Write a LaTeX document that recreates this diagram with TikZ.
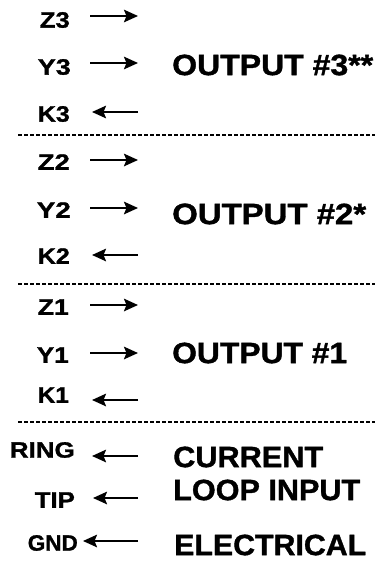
\documentclass[tikz,border=0pt]{standalone}
\usepackage{fontspec}
\setmainfont{Liberation Sans}[BoldFeatures={FakeBold=1.2}]
\usetikzlibrary{arrows.meta}
\newcommand{\fitsm}[2]{\resizebox{#1pt}{15.5pt}{#2}}
\newcommand{\fitbg}[2]{\resizebox{#1pt}{20.5pt}{#2}}
\begin{document}
\begin{tikzpicture}[x=1pt,y=-1pt,
  small/.style={inner sep=0pt, anchor=east, font=\fontsize{21.5}{24}\selectfont\bfseries},
  big/.style={inner sep=0pt, anchor=west, font=\fontsize{28.5}{32}\selectfont\bfseries},
  sig/.style={line width=2.2pt, -{Stealth[length=14pt,width=12.5pt,inset=2.5pt]}},
  sep/.style={line width=1.8pt, dash pattern=on 4pt off 2pt}]
\useasboundingbox (0,0) rectangle (375,563);

% ---- output 3
\node[small] (z3) at (70,20)  {\fitsm{30}{Z3}};
\node[small] (y3) at (71,67)  {\fitsm{33}{Y3}};
\node[small] (k3) at (70,114) {\fitsm{32}{K3}};
\node[big] (o3) at (172,65) {\fitbg{201}{OUTPUT \#3**}};
\coordinate (z3a) at (90,16);  \coordinate (z3b) at (138,16);
\coordinate (y3a) at (90,63);  \coordinate (y3b) at (138,63);
\coordinate (k3a) at (138,112); \coordinate (k3b) at (92,112);
\draw[sig] (z3a) -- (z3b);
\draw[sig] (y3a) -- (y3b);
\draw[sig] (k3a) -- (k3b);
\coordinate (d1a) at (18,135); \coordinate (d1b) at (375,135);
\draw[sep] (d1a) -- (d1b);

% ---- output 2
\node[small] (z2) at (70,162) {\fitsm{32}{Z2}};
\node[small] (y2) at (71,210) {\fitsm{34}{Y2}};
\node[small] (k2) at (70,256) {\fitsm{32}{K2}};
\node[big] (o2) at (172,214) {\fitbg{194}{OUTPUT \#2*}};
\coordinate (z2a) at (90,160);  \coordinate (z2b) at (138,160);
\coordinate (y2a) at (90,208);  \coordinate (y2b) at (138,208);
\coordinate (k2a) at (138,255); \coordinate (k2b) at (92,255);
\draw[sig] (z2a) -- (z2b);
\draw[sig] (y2a) -- (y2b);
\draw[sig] (k2a) -- (k2b);
\coordinate (d2a) at (18,284); \coordinate (d2b) at (375,284);
\draw[sep] (d2a) -- (d2b);

% ---- output 1
\node[small] (z1) at (69,307) {\fitsm{31}{Z1}};
\node[small] (y1) at (69,355) {\fitsm{32}{Y1}};
\node[small] (k1) at (69,395) {\fitsm{31}{K1}};
\node[big] (o1) at (172,353) {\fitbg{175}{OUTPUT \#1}};
\coordinate (z1a) at (90,305);  \coordinate (z1b) at (138,305);
\coordinate (y1a) at (90,353);  \coordinate (y1b) at (138,353);
\coordinate (k1a) at (138,400); \coordinate (k1b) at (92,400);
\draw[sig] (z1a) -- (z1b);
\draw[sig] (y1a) -- (y1b);
\draw[sig] (k1a) -- (k1b);
\coordinate (d3a) at (18,422); \coordinate (d3b) at (375,422);
\draw[sep] (d3a) -- (d3b);

% ---- current loop input
\node[small] (ring) at (75,450) {\fitsm{65}{RING}};
\node[small] (tip)  at (75,500) {\fitsm{40}{TIP}};
\node[small] (gnd)  at (78,543) {\fitsm{50}{GND}};
\node[big] (cur)  at (173,457) {\fitbg{150}{CURRENT}};
\node[big] (loop) at (173,490) {\fitbg{187}{LOOP INPUT}};
\node[big] (elec) at (174,545) {\fitbg{192}{ELECTRICAL}};
\coordinate (ra) at (138,456); \coordinate (rb) at (92,456);
\coordinate (ta) at (138,498); \coordinate (tb) at (93,498);
\coordinate (ga) at (138,541); \coordinate (gb) at (83,541);
\draw[sig] (ra) -- (rb);
\draw[sig] (ta) -- (tb);
\draw[sig] (ga) -- (gb);
\end{tikzpicture}
\end{document}
